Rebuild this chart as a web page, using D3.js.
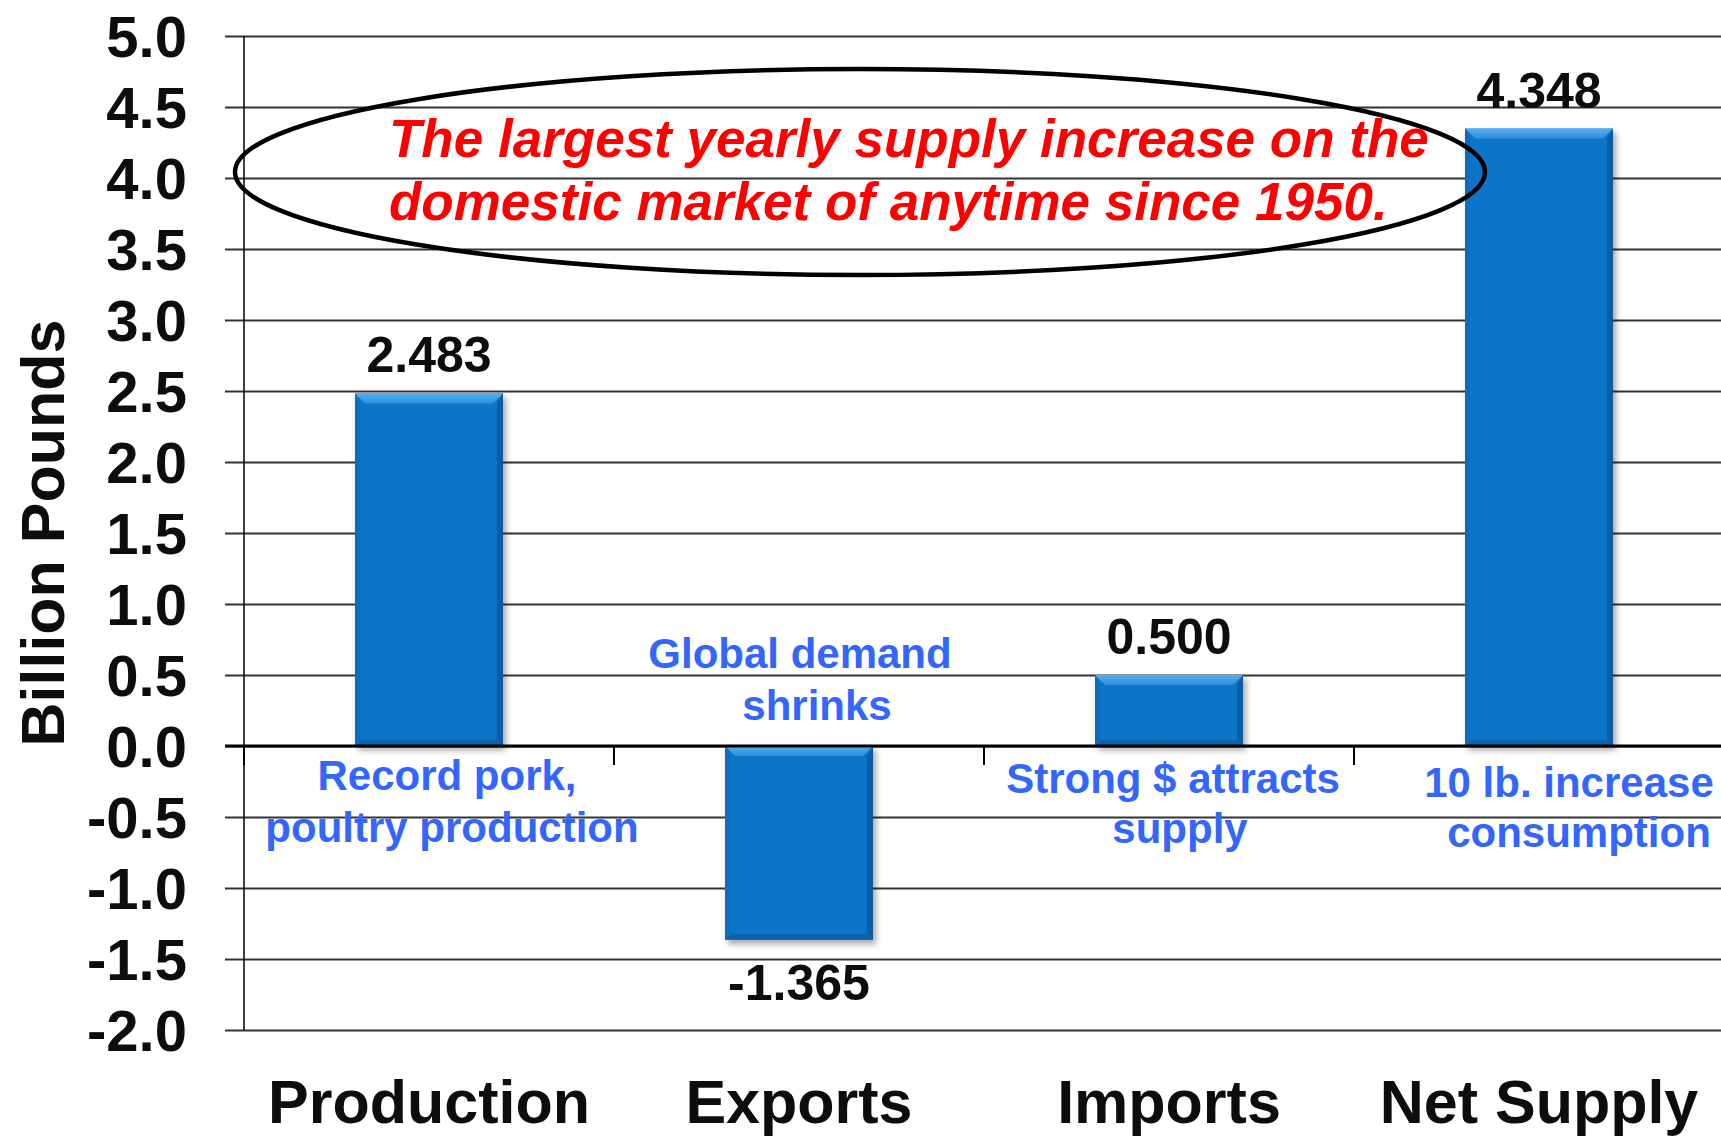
<!DOCTYPE html>
<html>
<head>
<meta charset="utf-8">
<script src="https://cdn.jsdelivr.net/npm/d3@7"></script>
<style>
  html, body { margin: 0; padding: 0; background: #ffffff; }
  svg { display: block; }
  text { font-family: "Liberation Sans", Arial, Helvetica, sans-serif; font-weight: bold; }
</style>
</head>
<body>
<script>
// Year-over-year change in domestic meat supply, billion pounds
const categories = ["Production", "Exports", "Imports", "Net Supply"];
const changes = [2.483, -1.365, 0.500, 4.348];
const yTicks = [5.0, 4.5, 4.0, 3.5, 3.0, 2.5, 2.0, 1.5, 1.0, 0.5, 0.0, -0.5, -1.0, -1.5, -2.0];
const yTickLabels = ["5.0", "4.5", "4.0", "3.5", "3.0", "2.5", "2.0", "1.5", "1.0", "0.5", "0.0", "-0.5", "-1.0", "-1.5", "-2.0"];
const valueLabels = ["2.483", "-1.365", "0.500", "4.348"];
const yAxisTitle = "Billion Pounds";

// Explanatory notes attached to each category
const notes = [
  ["Record pork,", "poultry production"],
  ["Global demand", "shrinks"],
  ["Strong $ attracts", "supply"],
  ["10 lb. increase", "consumption"]
];
const callout = ["The largest yearly supply increase on the", "domestic market of anytime since 1950."];

const W = 1721, H = 1136;
const svg = d3.select("body").append("svg").attr("width", W).attr("height", H);

const y = d3.scaleLinear().domain([-2, 5]).range([1030, 36]);
const x = d3.scaleBand().domain(categories).range([244, 1724]).paddingInner(0.6).paddingOuter(0.3);
const step = x.step();
const bw = x.bandwidth();

// Bar colours
const defs = svg.append("defs");
const shadow = defs.append("filter").attr("id", "barShadow")
  .attr("x", "-20%").attr("y", "-20%").attr("width", "140%").attr("height", "140%");
shadow.append("feDropShadow").attr("dx", 3).attr("dy", 4).attr("stdDeviation", 3)
  .attr("flood-color", "#000").attr("flood-opacity", 0.35);
const topGrad = defs.append("linearGradient").attr("id", "topBevel").attr("x1", 0).attr("y1", 0).attr("x2", 0).attr("y2", 1);
topGrad.append("stop").attr("offset", "0%").attr("stop-color", "#56AEEF");
topGrad.append("stop").attr("offset", "100%").attr("stop-color", "#2C8EDD");

// Gridlines with outward ticks
const gridG = svg.append("g").attr("transform", "translate(244,0)")
  .call(d3.axisLeft(y).tickValues(yTicks).tickSize(-(W - 244)).tickSizeOuter(0).tickFormat(""));
gridG.select(".domain").remove();
gridG.selectAll(".tick line").attr("stroke", "#333").attr("stroke-width", 2).attr("x1", -19);

// Y tick labels
svg.append("g").selectAll("text").data(yTicks).join("text")
  .attr("x", 187).attr("y", d => y(d))
  .attr("dy", "0.36em")
  .attr("text-anchor", "end")
  .attr("font-size", 58)
  .attr("fill", "#0d0d0d")
  .text((d, i) => yTickLabels[i]);

// Y axis line
svg.append("line").attr("x1", 244).attr("x2", 244).attr("y1", y(5)).attr("y2", y(-2))
  .attr("stroke", "#111").attr("stroke-width", 1.6);

// Bars with bevelled edges
const barG = svg.append("g").selectAll("g").data(changes).join("g")
  .attr("filter", "url(#barShadow)");
const b = 10;
barG.each(function (d, i) {
  const g = d3.select(this);
  const x0 = x(categories[i]), x1 = x0 + bw;
  const y0 = Math.min(y(d), y(0)), y1 = Math.max(y(d), y(0));
  g.append("rect").attr("x", x0).attr("y", y0).attr("width", bw).attr("height", y1 - y0).attr("fill", "#0875C8");
  g.append("polygon").attr("points", [[x0, y0], [x1, y0], [x1 - b, y0 + b], [x0 + b, y0 + b]].join(" "))
    .attr("fill", "url(#topBevel)");
  g.append("polygon").attr("points", [[x1, y0], [x1, y1], [x1 - b * 0.6, y1 - b * 0.6], [x1 - b * 0.6, y0 + b]].join(" "))
    .attr("fill", "#0A5DA6");
  g.append("polygon").attr("points", [[x0, y1], [x1, y1], [x1 - b * 0.6, y1 - b * 0.6], [x0 + b * 0.6, y1 - b * 0.6]].join(" "))
    .attr("fill", "#0862AE");
  g.append("polygon").attr("points", [[x0, y0], [x0 + b * 0.5, y0 + b], [x0 + b * 0.5, y1 - b * 0.6], [x0, y1]].join(" "))
    .attr("fill", "#0B6CBC");
});

// Zero line and category separators
svg.append("line").attr("x1", 225).attr("x2", W).attr("y1", y(0)).attr("y2", y(0))
  .attr("stroke", "#000").attr("stroke-width", 3);
svg.append("g").selectAll("line").data(categories).join("line")
  .attr("x1", d => x(d) + bw / 2 - step / 2).attr("x2", d => x(d) + bw / 2 - step / 2)
  .attr("y1", y(0)).attr("y2", y(0) + 19)
  .attr("stroke", "#000").attr("stroke-width", 2);

// Value labels
svg.append("g").selectAll("text").data(changes).join("text")
  .attr("x", (d, i) => x(categories[i]) + bw / 2)
  .attr("y", d => d >= 0 ? y(d) - 21 : y(d) + 60)
  .attr("text-anchor", "middle")
  .attr("font-size", 50)
  .attr("fill", "#0d0d0d")
  .text((d, i) => valueLabels[i]);

// Category labels
svg.append("g").selectAll("text").data(categories).join("text")
  .attr("x", d => x(d) + bw / 2)
  .attr("y", 1123)
  .attr("text-anchor", "middle")
  .attr("font-size", 61)
  .attr("fill", "#0d0d0d")
  .text(d => d);

// Y axis title
svg.append("text")
  .attr("transform", `translate(64,${y(1.5)}) rotate(-90)`)
  .attr("text-anchor", "middle")
  .attr("font-size", 61)
  .attr("fill", "#0d0d0d")
  .text(yAxisTitle);

// Notes under/over each bar
const noteLayout = [
  { dx: [18, 23], y: [790, 842] },
  { dx: [1, 18], y: [668, 720] },
  { dx: [4, 11], y: [793, 843] },
  { dx: [30, 40], y: [797, 847] }
];
notes.forEach((lines, i) => {
  const cx = x(categories[i]) + bw / 2;
  svg.append("g").selectAll("text").data(lines).join("text")
    .attr("x", (t, j) => cx + noteLayout[i].dx[j])
    .attr("y", (t, j) => noteLayout[i].y[j])
    .attr("text-anchor", "middle")
    .attr("font-size", 42)
    .attr("fill", "#3366FF")
    .text(t => t);
});

// Callout ellipse and text
svg.append("ellipse")
  .attr("cx", 860).attr("cy", 172).attr("rx", 625).attr("ry", 103)
  .attr("fill", "none").attr("stroke", "#000").attr("stroke-width", 4.5);
svg.append("g").selectAll("text").data(callout).join("text")
  .attr("x", 389)
  .attr("y", (t, j) => 157 + j * 63)
  .attr("font-size", 53)
  .attr("font-style", "italic")
  .attr("fill", "#FF0000")
  .text(t => t);
</script>
</body>
</html>
